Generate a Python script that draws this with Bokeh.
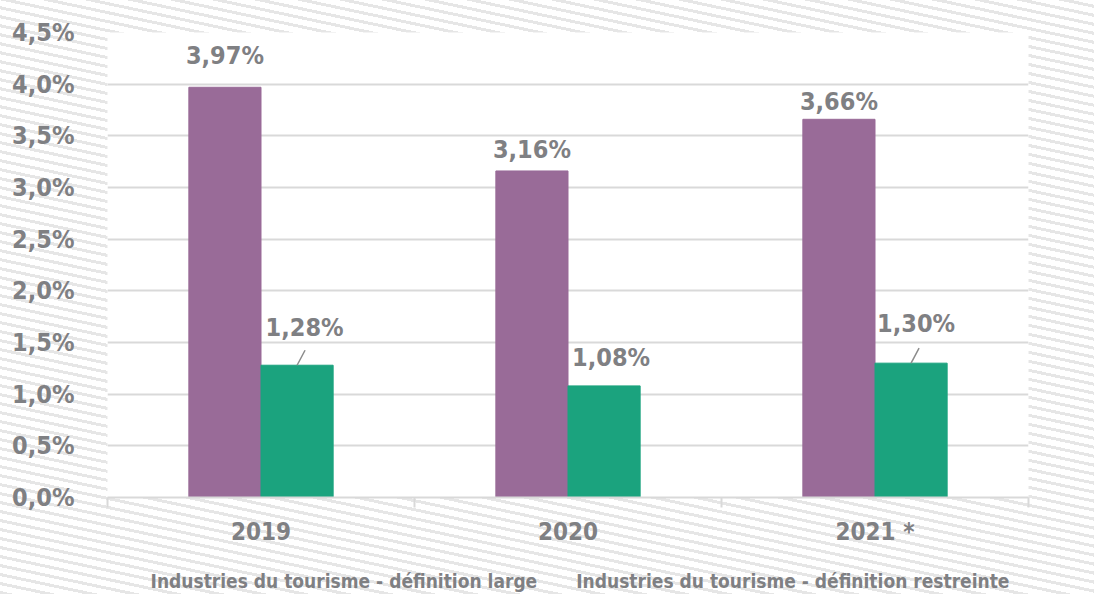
from bokeh.plotting import figure
from bokeh.layouts import column
from bokeh.models import (FixedTicker, CustomJSTickFormatter, Legend, LegendItem,
                          ColumnDataSource, Range1d)
from bokeh.core.properties import value
from bokeh.embed import file_html
from bokeh.resources import INLINE

# ---- data ----
years = ["2019", "2020", "2021 *"]
large = [3.97, 3.16, 3.66]
restreinte = [1.28, 1.08, 1.30]
label_large = ["3,97%", "3,16%", "3,66%"]
label_restr = ["1,28%", "1,08%", "1,30%"]
series_names = ["Industries du tourisme - définition large",
                "Industries du tourisme - définition restreinte"]
y_ticks = [0, 0.5, 1.0, 1.5, 2.0, 2.5, 3.0, 3.5, 4.0, 4.5]

# ---- styles ----
PURPLE = "#996b98"
GREEN = "#1ba37e"
TXT = "#7f8083"
GRID = "#d9d9d9"
FONT = "DejaVu Sans Condensed"
BAR_W = 0.235
px_per_unit = 465 / 4.5
lab_large_dy = [32, 21, 18]      # px above bar top (label centre)
lab_restr_dy = [38, 28, 40]
lab_restr_dx = [7.5, 7, 5]
leader = [True, False, True]
HATCH = "repeating-linear-gradient(12deg, #e6e6e6 0px, #e6e6e6 3px, #ffffff 3px, #ffffff 8.8px)"

idx = list(range(len(years)))
x_large = [i + 0.5 - BAR_W / 2 for i in idx]
x_restr = [i + 0.5 + BAR_W / 2 for i in idx]

p = figure(frame_width=921, frame_height=465, output_backend="svg", toolbar_location=None,
           x_range=Range1d(0, len(years)), y_range=Range1d(0, 4.5),
           min_border_left=107, min_border_right=66, min_border_top=32,
           min_border_bottom=70)
p.border_fill_color = None
p.background_fill_color = "white"
p.outline_line_color = None

r1 = p.vbar(x=x_large, top=large, width=BAR_W, color=PURPLE)
r2 = p.vbar(x=x_restr, top=restreinte, width=BAR_W, color=GREEN)

# labels
src1 = ColumnDataSource(dict(x=x_large, y=[v + d / px_per_unit for v, d in zip(large, lab_large_dy)],
                             t=label_large))
src2 = ColumnDataSource(dict(x=x_restr, y=[v + d / px_per_unit for v, d in zip(restreinte, lab_restr_dy)],
                             t=label_restr, dx=lab_restr_dx))
p.text(x="x", y="y", text="t", source=src1, text_align="center", text_baseline="middle",
       text_font=value(FONT), text_font_style="bold", text_font_size="25px", text_color=TXT)
p.text(x="x", y="y", text="t", source=src2, text_align="center", text_baseline="middle",
       x_offset="dx", text_font=value(FONT), text_font_style="bold", text_font_size="25px",
       text_color=TXT)

# leader lines
lx0, ly0, lx1, ly1 = [], [], [], []
for i in idx:
    if leader[i]:
        lx0.append(x_restr[i]); ly0.append(restreinte[i])
        lx1.append(x_restr[i] + 8 / 307); ly1.append(restreinte[i] + 15 / px_per_unit)
p.segment(x0=lx0, y0=ly0, x1=lx1, y1=ly1, line_color="#8c8c8c", line_width=1.5)

# axes
p.yaxis.ticker = FixedTicker(ticks=y_ticks)
p.yaxis.formatter = CustomJSTickFormatter(code="return tick.toFixed(1).replace('.', ',') + '%';")
p.yaxis.axis_line_color = None
p.yaxis.major_tick_line_color = None
p.yaxis.minor_tick_line_color = None
p.yaxis.major_label_standoff = 27
p.yaxis.major_label_text_font = FONT
p.yaxis.major_label_text_font_style = "bold"
p.yaxis.major_label_text_font_size = "25px"
p.yaxis.major_label_text_color = TXT

p.xaxis.ticker = FixedTicker(ticks=[i + 0.5 for i in idx], minor_ticks=list(range(len(years) + 1)))
p.xaxis.major_label_overrides = {i + 0.5: y for i, y in zip(idx, years)}
p.xaxis.axis_line_color = GRID
p.xaxis.axis_line_width = 2
p.xaxis.major_tick_line_color = None
p.xaxis.major_tick_out = 0
p.xaxis.major_tick_in = 0
p.xaxis.minor_tick_line_color = GRID
p.xaxis.minor_tick_line_width = 2
p.xaxis.minor_tick_out = 10
p.xaxis.minor_tick_in = 0
p.xaxis.major_label_standoff = 10
p.xaxis.major_label_text_font = FONT
p.xaxis.major_label_text_font_style = "bold"
p.xaxis.major_label_text_font_size = "24px"
p.xaxis.major_label_text_color = TXT

p.xgrid.grid_line_color = None
p.ygrid.ticker = FixedTicker(ticks=y_ticks[1:])
p.ygrid.grid_line_color = GRID
p.ygrid.grid_line_width = 2

# legend strip below the chart
p2 = figure(width=1094, height=27, output_backend="svg", toolbar_location=None,
            x_range=Range1d(0, 1), y_range=Range1d(0, 1),
            min_border_left=0, min_border_right=0, min_border_top=0, min_border_bottom=0)
p2.axis.visible = False
p2.grid.visible = False
p2.outline_line_color = None
p2.border_fill_color = None
p2.background_fill_color = None
d1 = p2.vbar(x=[], top=[], width=0.1, color=PURPLE)
d2 = p2.vbar(x=[], top=[], width=0.1, color=GREEN)
legend = Legend(items=[LegendItem(label=series_names[0], renderers=[d1]),
                       LegendItem(label=series_names[1], renderers=[d2])],
                orientation="horizontal", location="center",
                label_text_font=FONT, label_text_font_style="bold",
                label_text_font_size="19px", label_text_color=TXT,
                glyph_width=18, glyph_height=18, label_standoff=7, spacing=14,
                padding=0, margin=0,
                border_line_color=None, background_fill_alpha=0)
p2.add_layout(legend)

layout = column(p, p2, spacing=0)
layout.styles = {"background-image": HATCH}

open("out.html", "w").write(file_html(layout, INLINE))
